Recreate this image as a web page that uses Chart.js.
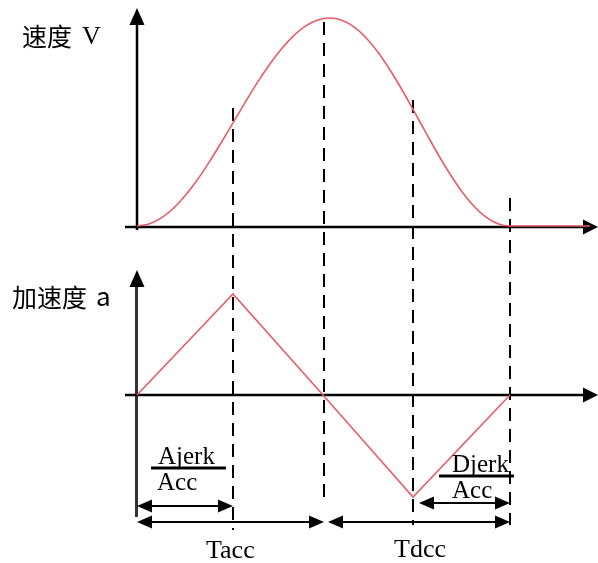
<!DOCTYPE html>
<html>
<head>
<meta charset="utf-8">
<script src="https://cdn.jsdelivr.net/npm/chart.js@4"></script>
<style>
  html, body { margin: 0; padding: 0; background: #ffffff; }
  #wrap { position: relative; width: 598px; height: 563px; }
</style>
</head>
<body>
<div id="wrap"><canvas id="c" width="598" height="563"></canvas></div>
<script>
// ---- data ----
const timeV    = [0, 1.2, 2.4, 3.6, 4.8, 6.0, 7.2, 8.4, 9.6, 10.8, 12.0, 13.2, 14.4, 15.6, 16.8, 18.0, 19.3,
                  20.5, 21.7, 22.9, 24.1, 25.3, 26.5, 27.7, 28.9, 30.1, 31.3, 32.5, 33.7, 34.9, 36.1, 37.3, 45.3];
const velocity = [0, 0.010, 0.038, 0.083, 0.145, 0.220, 0.306, 0.399, 0.496, 0.593, 0.687, 0.773, 0.849, 0.912, 0.960, 0.989, 1.000,
                  0.989, 0.957, 0.905, 0.835, 0.750, 0.655, 0.552, 0.448, 0.345, 0.250, 0.165, 0.095, 0.043, 0.011, 0, 0];
const timeA    = [0, 9.6, 18.6, 27.6, 37.3];
const accel    = [0, 1, 0, -1.01, 0];
const markTimes = [0, 9.6, 18.7, 27.6, 37.3];           // T0 .. T4
const axisLabels = ['速度', 'V', '加速度', 'a'];
const fracLabels = ['Ajerk', 'Acc', 'Djerk', 'Acc'];
const spanLabels = ['Tacc', 'Tdcc'];

const RED = 'rgb(232, 92, 104)';
const toXY = (xs, ys) => xs.map((x, i) => ({ x: x, y: ys[i] }));

function arrowHead(ctx, tipX, tipY, dir, len, half) {
  ctx.beginPath();
  if (dir === 'up') {
    ctx.moveTo(tipX, tipY); ctx.lineTo(tipX - half, tipY + len); ctx.lineTo(tipX + half, tipY + len);
  } else if (dir === 'right') {
    ctx.moveTo(tipX, tipY); ctx.lineTo(tipX - len, tipY - half); ctx.lineTo(tipX - len, tipY + half);
  } else {
    ctx.moveTo(tipX, tipY); ctx.lineTo(tipX + len, tipY - half); ctx.lineTo(tipX + len, tipY + half);
  }
  ctx.closePath(); ctx.fill();
}
function line(ctx, x1, y1, x2, y2, w, color, dash) {
  ctx.save();
  ctx.strokeStyle = color || '#000'; ctx.lineWidth = w;
  ctx.setLineDash(dash || []);
  ctx.beginPath(); ctx.moveTo(x1, y1); ctx.lineTo(x2, y2); ctx.stroke();
  ctx.restore();
}
function dimArrow(ctx, x1, x2, y) {
  line(ctx, x1 + 8, y, x2 - 8, y, 2.2);
  ctx.fillStyle = '#000';
  arrowHead(ctx, x1, y, 'left', 15, 6.5);
  arrowHead(ctx, x2, y, 'right', 15, 6.5);
}

const diagram = {
  id: 'diagram',
  beforeDatasetsDraw(chart) {
    const ctx = chart.ctx;
    const X = chart.scales.x, YV = chart.scales.yV, YA = chart.scales.yA;
    const x0 = X.getPixelForValue(markTimes[0]);
    const vy0 = YV.getPixelForValue(0) + 1;
    const ay0 = YA.getPixelForValue(0);
    const W = chart.width;
    ctx.save();
    ctx.fillStyle = '#000';
    // top axes
    line(ctx, x0, vy0 + 3, x0, 22, 2.5);
    arrowHead(ctx, x0, 8, 'up', 17, 7.5);
    line(ctx, 125, vy0, W - 12, vy0, 2.5);
    arrowHead(ctx, W, vy0, 'right', 15, 7.5);
    // bottom axes
    line(ctx, x0 - 0.5, 517, x0 - 0.5, 285, 3, '#333');
    ctx.fillStyle = '#000';
    arrowHead(ctx, x0, 270, 'up', 17, 7.5);
    line(ctx, 125, ay0, W - 12, ay0, 2.5);
    arrowHead(ctx, W, ay0, 'right', 15, 7.5);

    // dashed verticals
    const dash = [13, 8];
    const px = markTimes.map(t => X.getPixelForValue(t));
    line(ctx, px[1], 108, px[1], 530, 2, '#000', dash);
    line(ctx, px[2], 22, px[2], 503, 2, '#000', dash);
    line(ctx, px[3], 100, px[3], 525, 2, '#000', dash);
    line(ctx, px[4], 198, px[4], 525, 2, '#000', dash);

    // dimension arrows
    dimArrow(ctx, px[0], px[1], 506);
    dimArrow(ctx, px[0], px[2], 522);
    dimArrow(ctx, px[2] + 4, px[4], 522);
    dimArrow(ctx, px[3] + 6, px[4], 503);

    // fraction bars
    line(ctx, 151, 468, 226, 468, 3);
    line(ctx, 439, 476, 514, 476, 3);
    ctx.restore();
  },
  afterDatasetsDraw(chart) {
    const ctx = chart.ctx;
    ctx.save();
    ctx.fillStyle = '#000';
    ctx.textBaseline = 'middle';
    ctx.textAlign = 'left';
    ctx.font = '25px "Noto Sans CJK SC"';
    ctx.fillText(axisLabels[0], 22, 36);
    ctx.font = '26px "Liberation Serif"';
    ctx.fillText(axisLabels[1], 82, 37);
    ctx.font = '25px "Noto Sans CJK SC"';
    ctx.fillText(axisLabels[2], 12, 297);
    ctx.font = '26px "Noto Sans CJK SC"';
    ctx.fillText(axisLabels[3], 96, 296);

    ctx.textBaseline = 'alphabetic';
    ctx.font = '25px "Liberation Serif"';
    ctx.fillText(fracLabels[0], 158, 464);
    ctx.fillText(fracLabels[1], 157, 490);
    ctx.fillText(fracLabels[2], 452, 472);
    ctx.fillText(fracLabels[3], 452, 498);
    ctx.font = '26px "Liberation Serif"';
    ctx.fillText(spanLabels[0], 206, 558);
    ctx.fillText(spanLabels[1], 394, 557);
    ctx.restore();
  }
};

new Chart(document.getElementById('c'), {
  type: 'line',
  data: {
    datasets: [
      { label: 'V', data: toXY(timeV, velocity), yAxisID: 'yV', borderColor: RED, borderWidth: 1.6,
        pointRadius: 0, cubicInterpolationMode: 'monotone', fill: false },
      { label: 'a', data: toXY(timeA, accel), yAxisID: 'yA', borderColor: RED, borderWidth: 1.6,
        pointRadius: 0, tension: 0, fill: false }
    ]
  },
  options: {
    responsive: false,
    animation: false,
    events: [],
    layout: { padding: 0 },
    plugins: { legend: { display: false }, tooltip: { enabled: false }, title: { display: false } },
    scales: {
      x: { type: 'linear', min: -13.7, max: 46.1, display: false },
      yV: { type: 'linear', position: 'left', min: -1.62019, max: 1.08654, display: false },
      yA: { type: 'linear', position: 'left', min: -1.66337, max: 3.91089, display: false }
    }
  },
  plugins: [diagram]
});
</script>
</body>
</html>
